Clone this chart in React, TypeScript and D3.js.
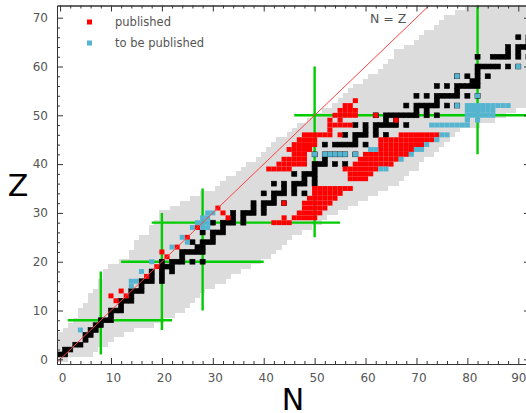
import { useEffect, useRef } from 'react';
import * as d3 from 'd3';

const width = 526;
const height = 413;

// pixel frame of the plot, axis domains
const plot = { left: 57, right: 530, top: 5.5, bottom: 364 };
const nDomain = [-0.6, 92.3];
const zDomain = [-0.96, 72.5];

const grey = '#dcdcdc';
const red = '#ff0000';
const blue = '#55b4d0';
const green = '#00cc00';
const labelColor = '#555555';

// index is Z, value is the N range of the known nuclei
const bandMin = [0, 0, 0, 0, 0, 0, 1, 2, 3, 4, 4, 5, 6, 6, 7, 8, 8, 9, 9, 10, 12, 14, 14, 15, 15, 16, 18, 18, 19, 20, 20, 22, 24, 26, 28, 31, 32, 33, 35, 36, 37, 39, 40, 41, 42, 43, 45, 46, 47, 49, 50, 52, 54, 55, 56, 57, 58, 60, 61, 63, 64, 65, 66, 66, 68, 70, 71, 72, 74, 75, 76, 78, 80];
const bandMax = [1, 6, 7, 9, 10, 12, 14, 18, 20, 22, 24, 25, 26, 27, 28, 30, 32, 33, 35, 37, 39, 41, 42, 43, 44, 45, 47, 49, 51, 52, 54, 56, 58, 60, 62, 64, 66, 67, 68, 70, 70, 71, 73, 74, 75, 76, 77, 78, 82, 85, 87, 89, 91, 93, 93, 93, 93, 93, 93, 93, 93, 93, 93, 93, 93, 93, 93, 93, 93, 93, 93, 93, 93];

// stable nuclei: index is Z, values are N
const stable = [
  [], [0, 1], [1, 2], [3, 4], [5], [5, 6], [6, 7], [7, 8], [8, 9, 10], [10],
  [10, 11, 12], [12], [12, 13, 14], [14], [14, 15, 16], [16], [16, 17, 18, 20], [18, 20], [18, 20, 22], [20, 21, 22],
  [20, 22, 23, 24, 26, 28], [24], [24, 25, 26, 27, 28], [27, 28], [26, 28, 29, 30], [30], [28, 30, 31, 32], [32], [30, 32, 33, 34, 36], [34, 36],
  [34, 36, 37, 38, 40], [38, 40], [38, 40, 41, 42, 44], [42], [40, 42, 43, 44, 46, 48], [44, 46], [42, 44, 46, 47, 48, 50], [48, 50], [46, 48, 49, 50], [50],
  [50, 51, 52, 54, 56], [52], [50, 52, 53, 54, 55, 56, 58], [], [52, 54, 55, 56, 57, 58, 60], [58], [56, 58, 59, 60, 62, 64], [60, 62], [58, 60, 62, 63, 64, 65, 66, 68], [64, 66],
  [62, 64, 65, 66, 67, 68, 69, 70, 72, 74], [70, 72], [68, 70, 71, 72, 73, 74, 76, 78], [74], [70, 72, 74, 75, 76, 77, 78, 80, 82], [78], [74, 76, 78, 79, 80, 81, 82], [81, 82], [78, 80, 82, 84], [82],
  [82, 83, 84, 85, 86, 88, 90], [], [82, 85, 86, 87, 88, 90, 92], [88, 90], [88, 90, 91, 92, 93], [92], [90, 92, 93],
];

// [Z, first N, last N]
const published = [
  [13, 10, 10], [12, 11, 11], [14, 12, 12], [13, 13, 13], [17, 17, 17], [19, 19, 19], [22, 20, 20], [21, 21, 21], [23, 23, 23], [25, 25, 25], [27, 27, 27], [31, 31, 31], [30, 32, 32], [29, 33, 33],
  [53, 58, 58], [52, 56, 57], [51, 55, 58], [50, 54, 58], [50, 62, 62], [49, 53, 53], [49, 55, 55], [49, 66, 66], [48, 53, 57], [47, 53, 53], [46, 48, 53], [46, 55, 55],
  [45, 47, 50], [44, 46, 50], [43, 45, 49], [42, 46, 48], [41, 44, 48], [40, 43, 48], [39, 41, 45],
  [35, 50, 57], [34, 50, 55], [33, 49, 54], [32, 44, 44], [32, 48, 53], [31, 48, 52], [30, 47, 51], [29, 44, 44], [29, 46, 50], [28, 42, 45],
  [46, 67, 74], [45, 63, 73], [44, 63, 71], [43, 63, 69], [42, 60, 68], [41, 59, 66], [40, 58, 65], [39, 56, 62], [38, 57, 61], [37, 57, 60],
];

const toBePublished = [
  [6, 4, 4], [15, 14, 14], [16, 14, 15], [18, 16, 16], [20, 18, 18], [23, 22, 22], [25, 24, 24], [24, 25, 25], [27, 26, 26], [28, 27, 29], [27, 28, 29], [29, 28, 29], [30, 29, 30],
  [42, 50, 50], [42, 52, 56], [42, 58, 58], [43, 61, 62], [45, 74, 74], [44, 72, 72], [43, 70, 71], [42, 69, 69], [41, 67, 67], [39, 63, 64], [46, 75, 76],
  [52, 80, 88], [51, 80, 85], [50, 80, 85], [49, 80, 80], [49, 82, 82], [48, 73, 80], [54, 82, 82], [52, 78, 78], [58, 78, 78], [60, 90, 90],
];

// magic numbers: [position, from, to]
const magicZ = [[8, 1.5, 22], [20, 12, 40], [28, 18, 55], [50, 46, 93]];
const magicN = [[8, 1, 18], [20, 6, 30], [28, 10, 35], [50, 25, 60], [82, 42, 73]];

const xTicks = d3.range(0, 91, 2);
const yTicks = d3.range(0, 71, 2);

export default function App() {
  const axes = useRef<SVGGElement>(null);

  const x = d3.scaleLinear().domain(nDomain).range([plot.left, plot.right]);
  const y = d3.scaleLinear().domain(zDomain).range([plot.bottom, plot.top]);

  useEffect(() => {
    const g = d3.select(axes.current);
    g.selectAll('*').remove();
    const major = (d: number) => d % 10 === 0;
    const style = (sel: any, size: number, labels: boolean) => {
      sel.select('.domain').attr('stroke', '#333').attr('stroke-width', 1);
      sel.selectAll('.tick line').attr('stroke', '#333').attr('stroke-width', 1);
      sel.selectAll('text')
        .attr('fill', labelColor)
        .attr('font-family', '"DejaVu Sans"')
        .attr('font-size', size);
      if (!labels) sel.selectAll('text').remove();
    };
    const add = (axis: any, tr: string, labels: boolean) => {
      const sel = g.append('g').attr('transform', tr).call(axis);
      style(sel, 12, labels);
      return sel;
    };
    const xMajor = xTicks.filter(major);
    const yMajor = yTicks.filter(major);
    const xMinor = xTicks.filter(d => !major(d));
    const yMinor = yTicks.filter(d => !major(d));

    const bottom = add(d3.axisBottom(x).tickValues(xMajor).tickFormat(d3.format('d')).tickSizeOuter(0).tickSizeInner(-6).tickPadding(9.5), `translate(0,${plot.bottom})`, true);
    bottom.selectAll('text').attr('dx', (d: any) => (d === 90 ? 0 : 2));
    add(d3.axisBottom(x).tickValues(xMinor).tickSizeOuter(0).tickSizeInner(-3), `translate(0,${plot.bottom})`, false);
    add(d3.axisTop(x).tickValues(xMajor).tickSizeOuter(0).tickSizeInner(-6), `translate(0,${plot.top})`, false);
    add(d3.axisTop(x).tickValues(xMinor).tickSizeOuter(0).tickSizeInner(-3), `translate(0,${plot.top})`, false);
    add(d3.axisLeft(y).tickValues(yMajor).tickFormat(d3.format('d')).tickSizeOuter(0).tickSizeInner(-6).tickPadding(9), `translate(${plot.left},0)`, true);
    add(d3.axisLeft(y).tickValues(yMinor).tickSizeOuter(0).tickSizeInner(-3), `translate(${plot.left},0)`, false);
    add(d3.axisRight(y).tickValues(yMajor).tickSizeOuter(0).tickSizeInner(-6), `translate(${plot.right},0)`, false);
  }, []);

  const cell = (z: number, n: number, fill: string, edge = 0) => (
    <rect
      key={`${fill}-${z}-${n}`}
      x={x(n - 0.5)}
      y={y(z + 0.5)}
      width={x(n + 0.5) - x(n - 0.5)}
      height={y(z - 0.5) - y(z + 0.5)}
      fill={fill}
      stroke={edge ? fill : 'none'}
      strokeWidth={edge}
    />
  );
  const cellsOf = (rows: number[][], fill: string) =>
    rows.flatMap(([z, from, to]) => d3.range(from, to + 1).map(n => cell(z, n, fill)));

  return (
    <svg width={width} height={height} style={{ position: 'absolute', left: 0, top: 0 }}>
      <clipPath id="frame">
        <rect x={plot.left} y={plot.top} width={plot.right - plot.left} height={plot.bottom - plot.top} />
      </clipPath>
      <g clipPath="url(#frame)">
        <g shapeRendering="crispEdges">
          {bandMin.map((lo, z) => (
            <rect
              key={z}
              x={x(lo - 0.5)}
              y={y(z + 0.5)}
              width={x(bandMax[z] + 0.5) - x(lo - 0.5)}
              height={y(z - 0.5) - y(z + 0.5)}
              fill={grey}
            />
          ))}
        </g>
        {magicZ.map(([z, from, to]) => (
          <line key={z} x1={x(from)} x2={x(to)} y1={y(z)} y2={y(z)} stroke={green} strokeWidth={2.4} />
        ))}
        {magicN.map(([n, from, to]) => (
          <line key={n} x1={x(n)} x2={x(n)} y1={y(from)} y2={y(to)} stroke={green} strokeWidth={2.4} />
        ))}
        {stable.flatMap((ns, z) => ns.map(n => cell(z, n, '#000000', 0.6)))}
        {cellsOf(published, red)}
        {cellsOf(toBePublished, blue)}
        <line x1={x(nDomain[0])} y1={y(nDomain[0])} x2={x(72.6)} y2={y(72.6)} stroke="#ff4040" strokeWidth={1} />
      </g>
      <g ref={axes} />
      <rect x={87} y={19.5} width={5} height={5} fill={red} />
      <rect x={87} y={40.5} width={5} height={5} fill={blue} />
      <g fontFamily='"DejaVu Sans"' fontSize={11.5} fill={labelColor}>
        <text x={115} y={26}>published</text>
        <text x={115} y={47}>to be published</text>
        <text x={370} y={22.5} fontSize={12.5}>N = Z</text>
      </g>
      <g fontFamily='"DejaVu Sans"' fontSize={30} fill="#000000" textAnchor="middle">
        <text x={293} y={410}>N</text>
        <text x={18} y={196}>Z</text>
      </g>
    </svg>
  );
}
